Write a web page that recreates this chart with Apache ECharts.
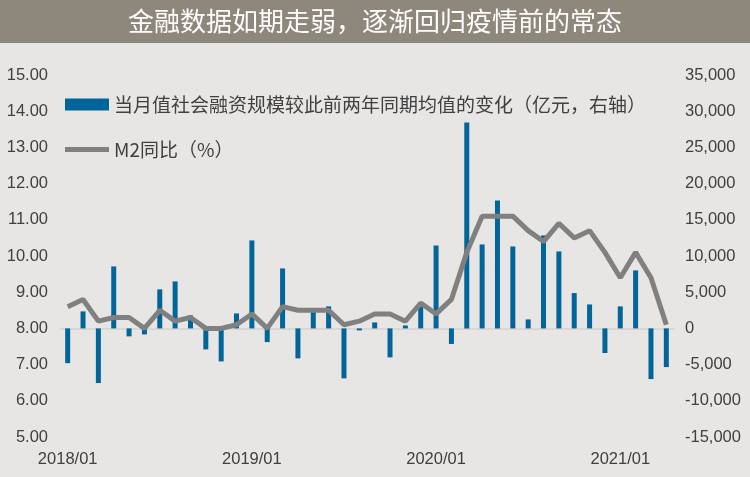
<!DOCTYPE html>
<html>
<head>
<meta charset="utf-8">
<script src="https://cdn.jsdelivr.net/npm/echarts@6/dist/echarts.min.js"></script>
<style>
html,body{margin:0;padding:0;background:#e8e6e4;}
#chart{width:750px;height:477px;}
</style>
</head>
<body>
<div id="chart"></div>
<script>
const titleText = '金融数据如期走弱，逐渐回归疫情前的常态';
const barName = '当月值社会融资规模较此前两年同期均值的变化（亿元，右轴）';
const lineName = 'M2同比（%）';
const categories = [
  '2018/01','2018/02','2018/03','2018/04','2018/05','2018/06','2018/07','2018/08','2018/09','2018/10','2018/11','2018/12',
  '2019/01','2019/02','2019/03','2019/04','2019/05','2019/06','2019/07','2019/08','2019/09','2019/10','2019/11','2019/12',
  '2020/01','2020/02','2020/03','2020/04','2020/05','2020/06','2020/07','2020/08','2020/09','2020/10','2020/11','2020/12',
  '2021/01','2021/02','2021/03','2021/04'
];
const socialFinancingChange = [
  -4800, 2350, -7550, 8560, -1100, -830, 5390, 6490, 1800, -2900, -4560, 2070,
  12150, -1890, 8280, -4140, 2500, 3040, -6900, -280, 830, -4000, 400, 3040,
  11450, -2150, 28450, 11600, 17680, 11320, 1240, 12840, 10630, 4880, 3310, -3400,
  3040, 8010, -7000, -5340
];
const m2YoY = [
  8.6, 8.8, 8.2, 8.3, 8.3, 8.0, 8.5, 8.2, 8.3, 8.0, 8.0, 8.1,
  8.4, 8.0, 8.6, 8.5, 8.5, 8.5, 8.1, 8.2, 8.4, 8.4, 8.2, 8.7,
  8.4, 8.8, 10.1, 11.1, 11.1, 11.1, 10.7, 10.4, 10.9, 10.5, 10.7, 10.1,
  9.4, 10.1, 9.4, 8.1
];
const leftMin = 5, leftMax = 15, leftStep = 1;
const rightMin = -15000, rightMax = 35000, rightStep = 5000;

const chart = echarts.init(document.getElementById('chart'));
const labelColor = '#404040';
const font = '"Liberation Sans", Arial, sans-serif';
chart.setOption({
  backgroundColor: '#e8e6e4',
  animation: false,
  graphic: [{
    type: 'rect', left: 0, top: 0, shape: {width: 750, height: 43},
    style: {fill: '#8e877c'}, z: 0
  }],
  title: {
    text: titleText, left: 'center', top: 3,
    textStyle: {color: '#ffffff', fontSize: 26, fontWeight: 'normal', fontFamily: '"Noto Sans CJK SC", sans-serif'}
  },
  legend: {
    orient: 'vertical', left: 60, top: 90, itemGap: 26,
    itemWidth: 44, itemHeight: 12,
    textStyle: {color: labelColor, fontSize: 19, fontFamily: '"Noto Sans CJK SC", "Liberation Sans", sans-serif'},
    data: [
      {name: barName, icon: 'rect'},
      {name: lineName, icon: 'path://M0,0 L44,0 L44,5 L0,5 Z'}
    ]
  },
  grid: {left: 60, right: 76, top: 75, bottom: 40},
  xAxis: {
    type: 'category', data: categories, boundaryGap: true,
    axisLine: {lineStyle: {color: '#d3d1cf', width: 1.5}},
    axisTick: {interval: (i) => i % 12 === 0, length: 6, lineStyle: {color: '#d3d1cf', width: 1.5}},
    axisLabel: {interval: (i) => i % 12 === 0, color: labelColor, fontSize: 16.5, fontFamily: font, margin: 14},
    splitLine: {show: false}
  },
  yAxis: [
    {
      type: 'value', min: leftMin, max: leftMax, interval: leftStep, position: 'left',
      axisLine: {show: false}, axisTick: {show: false}, splitLine: {show: false},
      axisLabel: {color: labelColor, fontSize: 16.5, fontFamily: font, margin: 12, formatter: (v) => v.toFixed(2)}
    },
    {
      type: 'value', min: rightMin, max: rightMax, interval: rightStep, position: 'right',
      axisLine: {show: false}, axisTick: {show: false}, splitLine: {show: false},
      axisLabel: {color: labelColor, fontSize: 16.5, fontFamily: font, margin: 11,
        formatter: (v) => v.toLocaleString('en-US')}
    }
  ],
  series: [
    {
      name: barName, type: 'bar', yAxisIndex: 1, data: socialFinancingChange,
      barWidth: 5, itemStyle: {color: '#006699'}
    },
    {
      name: lineName, type: 'line', yAxisIndex: 0, data: m2YoY,
      symbol: 'none', lineStyle: {color: '#808080', width: 5},
      itemStyle: {color: '#808080'}, z: 3
    }
  ]
});
</script>
</body>
</html>
